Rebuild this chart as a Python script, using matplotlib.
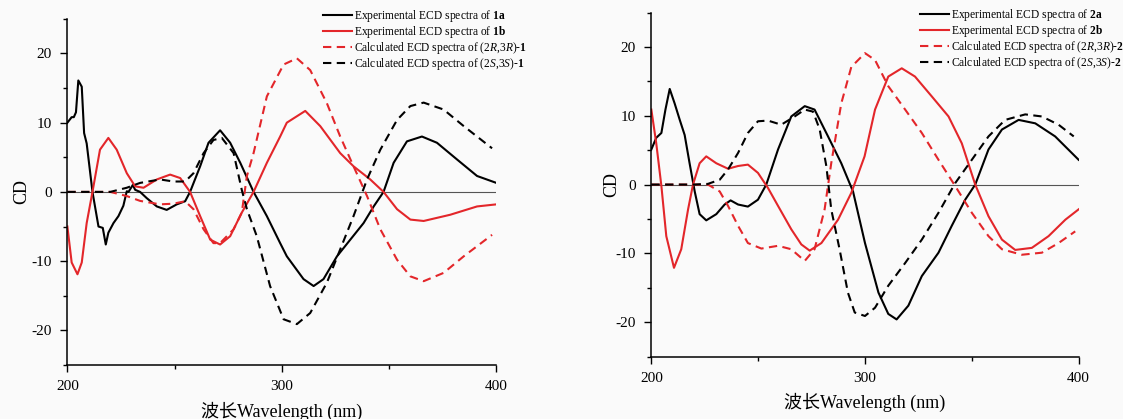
import matplotlib
matplotlib.use("Agg")
import matplotlib.pyplot as plt
from matplotlib.ticker import MultipleLocator

plt.rcParams["font.family"] = ["Liberation Serif", "Noto Sans CJK SC"]
plt.rcParams["mathtext.fontset"] = "custom"
plt.rcParams["mathtext.rm"] = "Liberation Serif"
plt.rcParams["mathtext.it"] = "Liberation Serif:italic"
plt.rcParams["mathtext.bf"] = "Liberation Serif:bold"
plt.rcParams["axes.unicode_minus"] = False

RED = "#e3262a"
BG = "#fafafa"

# ---------------- Data: panel 1 ----------------
exp_1a_x = [200, 202, 203, 204, 205.1, 206.7, 207.8, 209, 211.7, 214.5, 216.5, 217.9, 219.1, 221.5, 223.8,
            226.1, 227.7, 228.5, 230.5, 231.6, 233.9, 237, 241.7, 246.3, 251, 254.9, 257.2, 261.9, 265.8,
            271.2, 275.9, 280.6, 286.8, 293, 299.2, 302.3, 310.1, 314.8, 319.4, 325.7, 331.9, 338.1, 342.8,
            347.4, 352.1, 358.3, 365.3, 372.3, 381.6, 391, 400]
exp_1a_y = [10, 10.8, 10.8, 11.5, 16.1, 15.2, 8.5, 7, 0, -5, -5.2, -7.6, -5.9, -4.5, -3.5,
            -2, 0.1, 0, 1, 0.3, 0, -0.9, -2.1, -2.6, -1.8, -1.35, 0, 3.7, 7.1,
            8.9, 7.1, 4.2, 0, -3.5, -7.4, -9.3, -12.6, -13.6, -12.6, -9.3, -6.9, -4.5, -2.1,
            0, 4.2, 7.3, 8.0, 7.1, 4.7, 2.3, 1.3]

exp_1b_x = [200, 202, 204.7, 206.7, 209, 211.7, 215.2, 219.1, 223, 227.7, 231.6, 235.5, 241.7, 247.9,
            252.6, 257.2, 261.9, 266.6, 271.2, 275.9, 281.3, 286.8, 293, 299.2, 302.3, 310.9, 317.9,
            327.2, 333.4, 341.2, 347.4, 353.7, 359.9, 366.1, 378.5, 391, 400]
exp_1b_y = [-5, -10.2, -11.9, -10.2, -4.5, 0, 6.1, 7.8, 6.1, 2.7, 0.8, 0.6, 1.8, 2.5,
            2, 0, -3.5, -6.9, -7.6, -6.4, -3, 0, 4.2, 8, 10, 11.7, 9.5,
            5.6, 3.7, 1.8, 0, -2.5, -4, -4.2, -3.3, -2.1, -1.8]

calc_rr1_x = [200, 210, 220, 227.7, 233.9, 243.2, 249.5, 254.9, 258.8, 263.5, 268.1, 271.2, 277.5, 281.3,
              283.7, 286.8, 293, 300.8, 307, 313.2, 321, 327.2, 333.4, 339.7, 345.9, 353.7, 359.9,
              366.1, 375.4, 384.8, 398]
calc_rr1_y = [0, 0, 0, -0.6, -1.3, -1.8, -1.7, -1.35, -2.5, -5.4, -7.4, -7.4, -5.4, -3,
              2.3, 5.6, 13.8, 18.4, 19.3, 17.6, 12.8, 8, 3.7, -0.6, -5.4, -9.8, -12.2,
              -12.9, -11.7, -9.3, -6.2]

calc_ss1_x = [200, 210, 220, 227.7, 233.9, 243.2, 249.5, 254.9, 258.8, 263.5, 268.1, 272, 277.5, 281.3,
              283.7, 288.3, 294.5, 300.8, 307, 313.2, 321, 327.2, 333.4, 339.7, 345.9, 353.7, 359.9,
              366.1, 375.4, 384.8, 398]
calc_ss1_y = [0, 0, 0, 0.6, 1.3, 1.8, 1.5, 1.5, 2.7, 5.6, 7.5, 7.8, 5.6, 0.3,
              -2.5, -6.4, -13.6, -18.4, -19.1, -17.5, -13.1, -8.3, -3.5, 1.8, 6.1, 10.4, 12.4,
              12.9, 11.9, 9.5, 6.3]

# ---------------- Data: panel 2 ----------------
exp_2a_x = [200, 202.3, 204.7, 206.6, 208.6, 210.9, 213.3, 215.6, 217.9, 220.3, 222.6, 225.7, 230.4, 234.3,
            237.1, 240.6, 245.2, 249.9, 253.8, 259.3, 265.5, 271.8, 276.4, 282.7, 288.9, 294.4, 300,
            306.3, 310.9, 314.8, 320.3, 326.6, 334.4, 340.6, 346.9, 351.6, 357.8, 364.1, 371.9, 379.7,
            389, 400]
exp_2a_y = [5.1, 6.8, 7.5, 10.9, 13.9, 11.8, 9.4, 7.2, 3.1, -1, -4.3, -5.2, -4.3, -2.9,
            -2.3, -2.9, -3.2, -2.2, 0, 5.1, 9.9, 11.4, 10.9, 7, 3.1, -1, -8.5,
            -15.7, -18.8, -19.6, -17.6, -13.3, -9.9, -6, -2.2, 0, 5.1, 8, 9.4, 8.9,
            7, 3.6]

exp_2b_x = [200, 202.3, 204.7, 207, 210.6, 214, 217.2, 219.5, 222.6, 225.7, 230.4, 235.9, 240.6, 245.2,
            249.9, 254.6, 259.3, 265.5, 270.2, 274.1, 279.6, 287.4, 293.6, 299.8, 304.7, 310.9, 317.2,
            323.4, 331.3, 339.1, 345.3, 351.6, 357.8, 364.1, 370.3, 378.1, 385.9, 393.8, 400]
exp_2b_y = [10.9, 6, -0.2, -7.5, -12.1, -9.4, -3.6, 0, 3.1, 4.1, 3.1, 2.3, 2.7, 2.9,
            1.7, -0.5, -3.1, -6.5, -8.7, -9.6, -8.5, -5.1, -1.2, 4.1, 10.9, 15.7, 16.9,
            15.7, 12.8, 9.9, 6, 0, -4.6, -8, -9.5, -9.2, -7.5, -5.1, -3.6]

calc_rr2_x = [200, 210, 220, 226.5, 232, 235.9, 240.6, 245.2, 251.5, 259.3, 265.5, 271.8, 276.4, 281.1,
              284.2, 288.9, 293.6, 300, 304.7, 310.9, 318.8, 326.6, 334.4, 342.2, 350, 357.8, 364.1,
              373.4, 382.8, 390.6, 398.4]
calc_rr2_y = [0, 0, 0, 0, -1, -3.1, -6, -8.5, -9.3, -8.9, -9.4, -11.1, -9.4, -3.6,
              3.1, 11.8, 17.1, 19.1, 18.1, 14.3, 10.9, 7.5, 3.6, -0.2, -4.1, -7.5, -9.4,
              -10.2, -9.9, -8.5, -6.8]

calc_ss2_x = [200, 210, 220, 226.5, 232, 235.9, 240.6, 245.2, 249.9, 254.6, 260.8, 267.1, 271.8, 275.7,
              278.8, 281.9, 284.2, 288.1, 292, 295.2, 300, 304.7, 310.9, 318.8, 326.6, 334.4, 342.2,
              350, 357.8, 365.6, 375, 382.8, 390.6, 397.7]
calc_ss2_y = [0, 0, 0, 0.1, 0.7, 2.2, 4.6, 7.5, 9.2, 9.3, 8.7, 9.9, 10.9, 10.6,
              8, 2.7, -3.6, -9.4, -15.7, -18.6, -19.1, -17.9, -14.7, -11.4, -8, -4.1, 0.2,
              3.6, 7, 9.4, 10.2, 9.9, 8.7, 7]

labels_1 = [r"Experimental ECD spectra of $\mathbf{1a}$",
            r"Experimental ECD spectra of $\mathbf{1b}$",
            r"Calculated ECD spectra of (2$\mathit{R}$,3$\mathit{R}$)-$\mathbf{1}$",
            r"Calculated ECD spectra of (2$\mathit{S}$,3$\mathit{S}$)-$\mathbf{1}$"]
labels_2 = [r"Experimental ECD spectra of $\mathbf{2a}$",
            r"Experimental ECD spectra of $\mathbf{2b}$",
            r"Calculated ECD spectra of (2$\mathit{R}$,3$\mathit{R}$)-$\mathbf{2}$",
            r"Calculated ECD spectra of (2$\mathit{S}$,3$\mathit{S}$)-$\mathbf{2}$"]

fig = plt.figure(figsize=(11.23, 4.19), dpi=100, facecolor=BG)
ax1 = fig.add_axes([0.060, 0.129, 0.382, 0.826])
ax2 = fig.add_axes([0.580, 0.149, 0.3805, 0.821])

panels = [
    (ax1, exp_1a_x, exp_1a_y, exp_1b_x, exp_1b_y, calc_rr1_x, calc_rr1_y, calc_ss1_x, calc_ss1_y, labels_1,
     (0.2876, 0.980), 1),
    (ax2, exp_2a_x, exp_2a_y, exp_2b_x, exp_2b_y, calc_rr2_x, calc_rr2_y, calc_ss2_x, calc_ss2_y, labels_2,
     (0.8195, 0.983), -3),
]

for ax, ax_, ay_, bx, by, rx, ry, sx, sy, labels, leg_pos, ypad in panels:
    ax.set_facecolor(BG)
    ax.axhline(0, color="#555555", lw=0.8, zorder=1)
    l1, = ax.plot(ax_, ay_, color="black", lw=1.5)
    l2, = ax.plot(bx, by, color=RED, lw=1.5)
    l3, = ax.plot(rx, ry, color=RED, lw=1.5, dashes=(4, 2.6))
    l4, = ax.plot(sx, sy, color="black", lw=1.5, dashes=(4, 2.6))

    ax.set_xlim(200, 400)
    ax.set_ylim(-25, 25)
    ax.set_xticks([200, 300, 400])
    ax.xaxis.set_minor_locator(MultipleLocator(50))
    ax.set_yticks([-20, -10, 0, 10, 20])
    ax.yaxis.set_minor_locator(MultipleLocator(5))
    ax.tick_params(which="major", direction="out", length=5, width=1, labelsize=11, pad=6)
    ax.tick_params(which="minor", direction="out", length=3, width=1)
    for side in ["top", "right"]:
        ax.spines[side].set_visible(False)
    for side in ["left", "bottom"]:
        ax.spines[side].set_linewidth(1.1)

    ax.set_ylabel("CD", fontsize=13, labelpad=ypad)
    ax.set_xlabel("波长Wavelength (nm)", fontsize=13, labelpad=6)

    fig.legend([l1, l2, l3, l4], labels, loc="upper left", bbox_to_anchor=leg_pos,
               bbox_transform=fig.transFigure, frameon=False, fontsize=8.3,
               handlelength=2.5, handletextpad=0.2, labelspacing=0.0, borderpad=0,
               borderaxespad=0)

fig.savefig("out.png", dpi=100, facecolor=BG)
